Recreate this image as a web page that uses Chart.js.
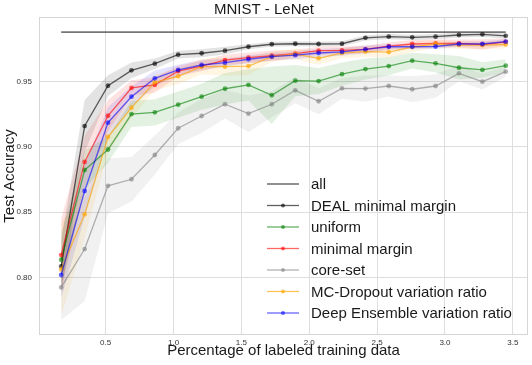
<!DOCTYPE html>
<html>
<head>
<meta charset="utf-8">
<script src="https://cdn.jsdelivr.net/npm/chart.js@4.4.1/dist/chart.umd.min.js"></script>
<style>
  html, body { margin: 0; padding: 0; background: #fff; }
  canvas { display: block; }
</style>
</head>
<body>
<canvas id="myChart" width="532" height="365"></canvas>
<script>
// percentage of labeled training data (x) for every acquisition round
const xValues = [0.172, 0.345, 0.517, 0.690, 0.862, 1.034, 1.207, 1.379, 1.552, 1.724,
                 1.897, 2.069, 2.241, 2.414, 2.586, 2.759, 2.931, 3.103, 3.276, 3.448];
const xTicks = [0.5, 1.0, 1.5, 2.0, 2.5, 3.0, 3.5];
const yTicks = [0.80, 0.85, 0.90, 0.95];

const allAcc = 0.988;

const dealMean = [0.8084, 0.9160, 0.9469, 0.9587, 0.9638, 0.9707, 0.9718, 0.9738, 0.9768, 0.9787,
                  0.9791, 0.9789, 0.9791, 0.9836, 0.9845, 0.9840, 0.9845, 0.9858, 0.9863, 0.9852];
const dealStd = [0.020, 0.020, 0.008, 0.006, 0.004, 0.003, 0.003, 0.003, 0.002, 0.002,
                 0.002, 0.002, 0.002, 0.002, 0.002, 0.002, 0.002, 0.002, 0.002, 0.002];

const uniformMean = [0.8135, 0.8823, 0.8980, 0.9252, 0.9265, 0.9324, 0.9385, 0.9446, 0.9475, 0.9396,
                     0.9508, 0.9505, 0.9558, 0.9597, 0.9620, 0.9661, 0.9641, 0.9607, 0.9590, 0.9623];
const uniformStd = [0.020, 0.015, 0.010, 0.010, 0.010, 0.010, 0.010, 0.012, 0.012, 0.022,
                    0.012, 0.010, 0.009, 0.008, 0.007, 0.006, 0.007, 0.009, 0.006, 0.005];

const marginMean = [0.8171, 0.8885, 0.9239, 0.9452, 0.9475, 0.9582, 0.9620, 0.9666, 0.9684, 0.9699,
                    0.9715, 0.9738, 0.9740, 0.9748, 0.9772, 0.9789, 0.9794, 0.9794, 0.9785, 0.9805];
const marginStd = [0.028, 0.020, 0.012, 0.006, 0.006, 0.004, 0.004, 0.004, 0.004, 0.004,
                   0.003, 0.003, 0.003, 0.003, 0.003, 0.003, 0.003, 0.003, 0.004, 0.003];

const coresetMean = [0.7923, 0.8217, 0.8702, 0.8752, 0.8938, 0.9143, 0.9237, 0.9327, 0.9255, 0.9327,
                     0.9434, 0.9350, 0.9449, 0.9447, 0.9467, 0.9442, 0.9467, 0.9564, 0.9500, 0.9577];
const coresetStd = [0.025, 0.040, 0.021, 0.017, 0.015, 0.012, 0.013, 0.011, 0.014, 0.010,
                    0.010, 0.010, 0.008, 0.010, 0.008, 0.010, 0.009, 0.006, 0.006, 0.004];

const mcMean = [0.8060, 0.8483, 0.9076, 0.9301, 0.9495, 0.9541, 0.9615, 0.9615, 0.9620, 0.9692,
                0.9712, 0.9679, 0.9720, 0.9731, 0.9727, 0.9766, 0.9789, 0.9781, 0.9781, 0.9785];
const mcStd = [0.036, 0.018, 0.012, 0.008, 0.006, 0.006, 0.006, 0.007, 0.007, 0.004,
               0.004, 0.005, 0.004, 0.004, 0.004, 0.004, 0.003, 0.003, 0.003, 0.003];

const ensembleMean = [0.8018, 0.8662, 0.9186, 0.9385, 0.9526, 0.9590, 0.9628, 0.9646, 0.9672, 0.9692,
                      0.9703, 0.9720, 0.9728, 0.9748, 0.9768, 0.9768, 0.9770, 0.9789, 0.9789, 0.9807];
const ensembleStd = [0.018, 0.020, 0.012, 0.008, 0.006, 0.004, 0.004, 0.003, 0.003, 0.003,
                     0.003, 0.003, 0.003, 0.003, 0.002, 0.002, 0.002, 0.002, 0.002, 0.002];

const series = [
    { label: 'DEAL minimal margin', mean: dealMean, std: dealStd, rgb: '0,0,0', a: 0.62 },
    { label: 'uniform', mean: uniformMean, std: uniformStd, rgb: '0,128,0', a: 0.6 },
    { label: 'minimal margin', mean: marginMean, std: marginStd, rgb: '255,0,0', a: 0.6 },
    { label: 'core-set', mean: coresetMean, std: coresetStd, rgb: '128,128,128', a: 0.6 },
    { label: 'MC-Dropout variation ratio', mean: mcMean, std: mcStd, rgb: '255,165,0', a: 0.65 },
    { label: 'Deep Ensemble variation ratio', mean: ensembleMean, std: ensembleStd, rgb: '0,0,255', a: 0.6 },
];

const font = '"Liberation Sans", Arial, sans-serif';
const pts = (ys) => ys.map((y, i) => ({ x: xValues[i], y: y }));

let datasets = [];
// std bands first, drawn under everything
series.forEach((s, i) => {
    datasets.push({
        data: pts(s.mean.map((m, j) => m + s.std[j])),
        borderWidth: 0, pointRadius: 0, fill: false, order: 100 + i,
    });
    datasets.push({
        data: pts(s.mean.map((m, j) => m - s.std[j])),
        borderWidth: 0, pointRadius: 0, order: 100 + i,
        fill: '-1',
        backgroundColor: 'rgba(' + s.rgb + ',0.11)',
    });
});

datasets.push({
    label: 'all',
    inLegend: true,
    data: [{ x: xValues[0], y: allAcc }, { x: xValues[xValues.length - 1], y: allAcc }],
    borderColor: 'rgba(60,60,60,0.7)',
    borderWidth: 1.6,
    pointRadius: 0,
    order: 20,
});

series.forEach((s, i) => {
    const col = 'rgba(' + s.rgb + ',' + s.a + ')';
    datasets.push({
        label: s.label,
        inLegend: true,
        data: pts(s.mean),
        borderColor: col,
        backgroundColor: col,
        borderWidth: 1.3,
        pointRadius: 2.4,
        pointBorderWidth: 0,
        order: 10 - i,
    });
});

const frame = {
    id: 'frame',
    beforeDatasetsDraw(chart) {
        const a = chart.chartArea;
        const c = chart.ctx;
        c.save();
        c.strokeStyle = '#d6d6d6';
        c.lineWidth = 1;
        c.strokeRect(a.left + 0.5, a.top + 0.5, a.right - a.left - 1, a.bottom - a.top - 1);
        c.restore();
    }
};

const insideLegend = {
    id: 'insideLegend',
    afterDraw(chart) {
        const a = chart.chartArea;
        const c = chart.ctx;
        const items = chart.data.datasets.filter(d => d.inLegend);
        c.save();
        c.font = '15px ' + font;
        c.textBaseline = 'middle';
        items.forEach((d, i) => {
            const y = a.top + 167 + i * 21.5;
            const x0 = a.left + 228;
            c.strokeStyle = d.borderColor;
            c.lineWidth = d.borderWidth;
            c.beginPath();
            c.moveTo(x0, y);
            c.lineTo(x0 + 32, y);
            c.stroke();
            if (d.pointRadius > 0) {
                c.fillStyle = d.borderColor;
                c.beginPath();
                c.arc(x0 + 16, y, 2, 0, Math.PI * 2);
                c.fill();
            }
            c.fillStyle = '#1a1a1a';
            c.fillText(d.label, x0 + 44, y + 1);
        });
        c.restore();
    }
};

const ctx = document.getElementById('myChart');
new Chart(ctx, {
    type: 'line',
    data: { datasets: datasets },
    plugins: [frame, insideLegend],
    options: {
        responsive: false,
        devicePixelRatio: 1,
        animation: false,
        events: [],
        layout: { padding: { left: 0, right: 4, top: 0, bottom: 0 } },
        elements: { line: { tension: 0 } },
        plugins: {
            legend: { display: false },
            tooltip: { enabled: false },
            title: {
                display: true,
                text: 'MNIST - LeNet',
                color: '#1a1a1a',
                font: { family: font, size: 15, lineHeight: 1, weight: 'normal' },
                padding: { top: 2, bottom: 0 },
            },
        },
        scales: {
            x: {
                type: 'linear',
                min: 0.0086,
                max: 3.612,
                afterBuildTicks: s => { s.ticks = xTicks.map(v => ({ value: v })); },
                afterFit: s => { s.height = 30; },
                grid: { color: '#dedede', drawTicks: false },
                border: { display: false },
                ticks: {
                    padding: 3,
                    color: '#333',
                    font: { family: font, size: 8 },
                    maxRotation: 0,
                    callback: v => v.toFixed(1),
                },
                title: {
                    display: true,
                    text: 'Percentage of labeled training data',
                    color: '#1a1a1a',
                    font: { family: font, size: 15 },
                    padding: { top: 0, bottom: 5 },
                },
            },
            y: {
                min: 0.7558,
                max: 0.9996,
                afterBuildTicks: s => { s.ticks = yTicks.map(v => ({ value: v })); },
                afterFit: s => { s.width = 39; },
                grid: { color: '#dedede', drawTicks: false },
                border: { display: false },
                ticks: {
                    padding: 7,
                    color: '#333',
                    font: { family: font, size: 8 },
                    callback: v => v.toFixed(2),
                },
                title: {
                    display: true,
                    text: 'Test Accuracy',
                    color: '#1a1a1a',
                    font: { family: font, size: 15 },
                    padding: { top: 1, bottom: 0 },
                },
            },
        },
    },
});
</script>
</body>
</html>
